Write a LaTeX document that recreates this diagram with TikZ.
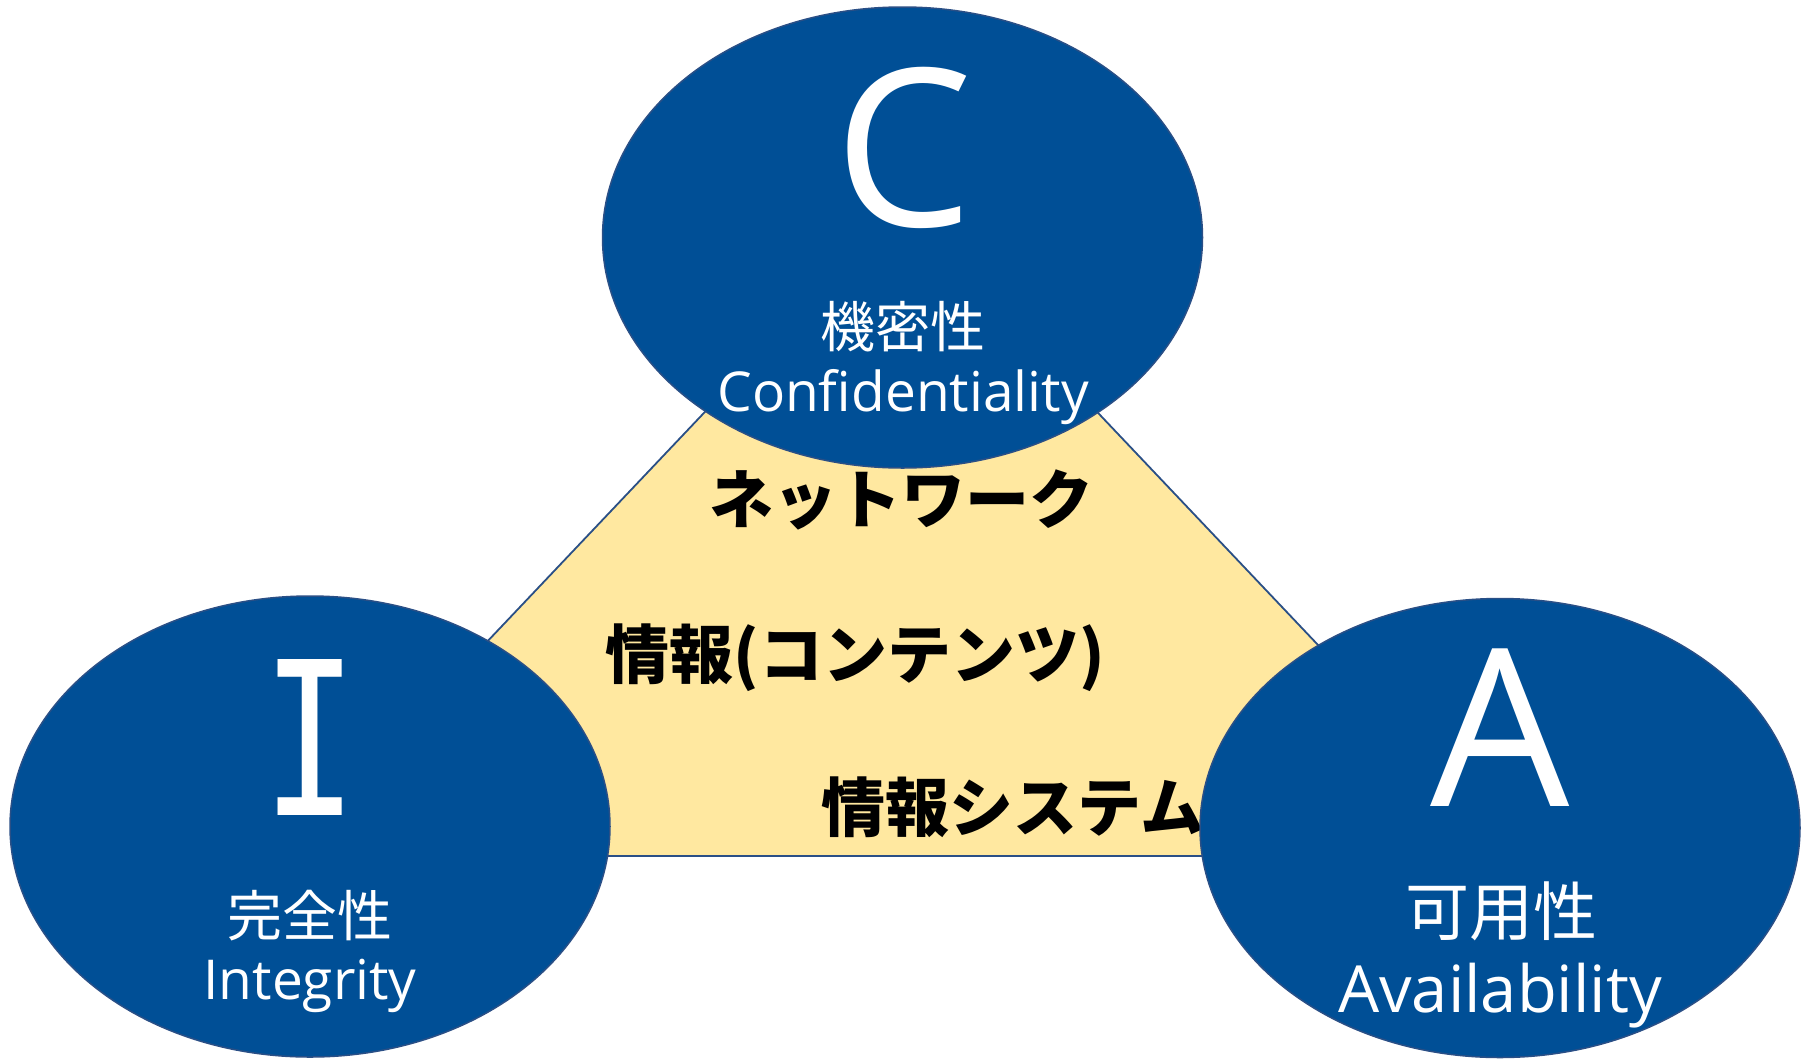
\documentclass[tikz,border=0pt]{standalone}
\usepackage{graphicx}
\usepackage{fontspec}
\setmainfont{Open Sans}
\newfontfamily\jp{Noto Sans CJK JP}
\newfontfamily\monoI{DejaVu Sans Mono}
\usetikzlibrary{shapes.geometric}
\definecolor{ciablue}{HTML}{004F96}
\definecolor{cialine}{HTML}{2A4F86}
\definecolor{ciafill}{HTML}{FFE8A0}
\begin{document}
\begin{tikzpicture}[x=1pt,y=-1pt,
  pillar/.style={ellipse, fill=ciablue, draw=cialine, line width=1.5pt,
    minimum width=600pt, minimum height=461pt, inner sep=0pt},
  bigletter/.style={text=white, inner sep=0pt, anchor=base,
    font=\fontsize{220}{220}\selectfont},
  jpwhite/.style={text=white, inner sep=0pt, font=\jp\fontsize{55}{55}\selectfont},
  enwhite/.style={text=white, inner sep=0pt, anchor=base,
    font=\fontsize{55}{55}\selectfont},
  jpblack/.style={text=black, inner sep=0pt,
    font=\jp\bfseries\fontsize{64}{64}\selectfont}]
\useasboundingbox (0,0) rectangle (1810,1058);
% central triangle
\coordinate (top) at (901,205);
\coordinate (bl) at (284,856);
\coordinate (br) at (1518,856);
\draw[fill=ciafill, draw=cialine, line width=1.8pt] (top) -- (bl) -- (br) -- cycle;
\node[jpblack] (net) at (901,500) {ネットワーク};
\node[jpblack] (info) at (855,658) {情報(コンテンツ)};
\node[jpblack] (sys) at (1013,807) {情報システム};
% three ellipses
\node[pillar] (C) at (902.5,237.5) {};
\node[pillar] (I) at (310,826.5) {};
\node[pillar, minimum height=459pt] (A) at (1500,828) {};
% texts in ellipses
\node[bigletter] (Cl) at (904,226) {C};
\node[bigletter, font=\monoI\fontsize{214}{214}\selectfont] (Il) at (310,815) {\scalebox{0.74}[1]{I}};
\node[bigletter] (Al) at (1500,806) {A};
\node[jpwhite] (Cj) at (903,327) {機密性};
\node[enwhite] (Ce) at (903,411) {Confidentiality};
\node[jpwhite] (Ij) at (310,916) {完全性};
\node[enwhite] (Ie) at (310,999) {Integrity};
\node[jpwhite, font=\jp\fontsize{64}{64}\selectfont] (Aj) at (1501,911) {可用性};
\node[enwhite, font=\fontsize{65}{65}\selectfont] (Ae) at (1500,1012) {Availability};
\end{tikzpicture}
\end{document}
